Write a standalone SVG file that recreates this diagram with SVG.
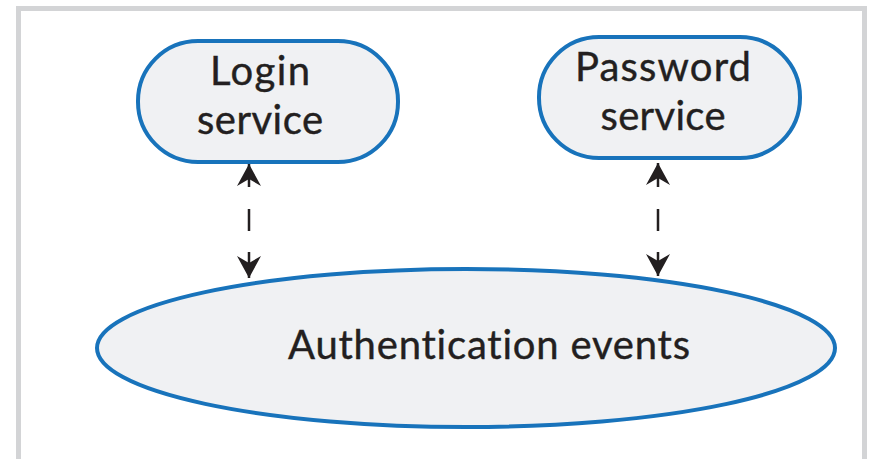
<svg xmlns="http://www.w3.org/2000/svg" width="869" height="459" viewBox="0 0 869 459">
<defs>
<style>
.node{fill:#f0f1f3;stroke:#1873bb;stroke-width:4}
.lbl{font-family:Lato,"Open Sans",sans-serif;font-size:40px;fill:#231f20;stroke:#231f20;stroke-width:0.4;text-anchor:middle;font-variant-ligatures:none}
.conn{stroke:#231f20;stroke-width:2.5;fill:none}
</style>
<marker id="ah" viewBox="0 0 22 24" refX="22" refY="12" markerWidth="22" markerHeight="24" markerUnits="userSpaceOnUse" orient="auto-start-reverse">
<path d="M0,0 L22,12 L0,24 L7,12 Z" fill="#231f20"/>
</marker>
</defs>
<rect width="869" height="459" fill="#fff"/>
<path d="M18.5,459 V8.5 H864.5 V459" fill="none" stroke="#d3d4d6" stroke-width="5"/>
<g id="login">
<rect class="node" x="138" y="41" width="260" height="121" rx="60" ry="60"/>
<text class="lbl" x="260" y="85" textLength="100">Login</text>
<text class="lbl" x="260" y="134" textLength="126">service</text>
</g>
<g id="password">
<rect class="node" x="539" y="37" width="261" height="121" rx="60" ry="60"/>
<text class="lbl" x="663" y="81" textLength="176">Password</text>
<text class="lbl" x="663" y="130" textLength="125">service</text>
</g>
<g id="auth">
<ellipse class="node" cx="466" cy="348" rx="369" ry="79"/>
<text class="lbl" x="489" y="359" textLength="402">Authentication events</text>
</g>
<g id="connectors">
<path class="conn" d="M249,164 V187 M249,209 V231 M249,252 V278" marker-start="url(#ah)" marker-end="url(#ah)"/>
<path class="conn" d="M658,163 V187 M658,209 V231 M658,252 V276" marker-start="url(#ah)" marker-end="url(#ah)"/>
</g>
</svg>
